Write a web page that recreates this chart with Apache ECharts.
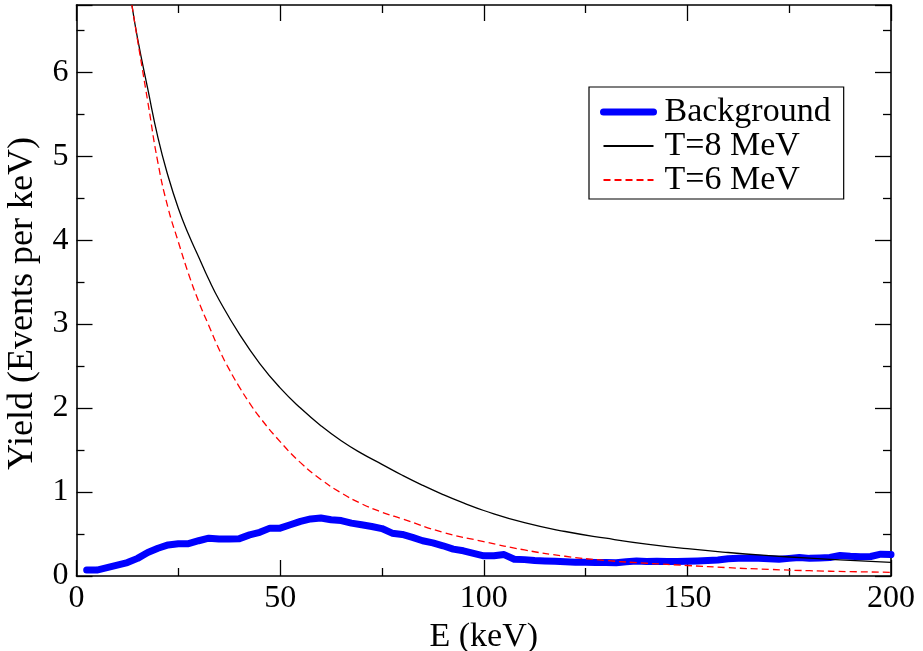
<!DOCTYPE html>
<html>
<head>
<meta charset="utf-8">
<script src="https://cdn.jsdelivr.net/npm/echarts@6/dist/echarts.min.js"></script>
<style>
html,body{margin:0;padding:0;background:#fff;}
#chart{width:923px;height:651px;}
</style>
</head>
<body>
<div id="chart"></div>
<script>
// ---- data ----
const bgE = [2.5,5,7.5,10,12.5,15,17.5,20,22.5,25,27.5,30,32.5,35,37.5,40,42.5,45,47.5,50,52.5,55,57.5,60,62.5,65,67.5,70,72.5,75,77.5,80,82.5,85,87.5,90,92.5,95,97.5,100,102.5,105,107.5,110,112.5,115,117.5,120,122.5,125,127.5,130,132.5,135,137.5,140,142.5,145,147.5,150,152.5,155,157.5,160,162.5,165,167.5,170,172.5,175,177.5,180,182.5,185,187.5,190,192.5,195,197.5,200];
const bgY = [0.07,0.07,0.10,0.13,0.16,0.21,0.28,0.33,0.37,0.385,0.385,0.42,0.45,0.44,0.44,0.445,0.49,0.52,0.57,0.57,0.61,0.65,0.68,0.69,0.67,0.66,0.63,0.61,0.59,0.565,0.51,0.495,0.46,0.42,0.395,0.36,0.32,0.30,0.27,0.24,0.24,0.255,0.20,0.195,0.185,0.18,0.175,0.17,0.165,0.165,0.162,0.16,0.158,0.17,0.178,0.172,0.175,0.172,0.172,0.175,0.18,0.185,0.19,0.205,0.21,0.21,0.21,0.205,0.20,0.21,0.22,0.21,0.215,0.22,0.245,0.235,0.23,0.232,0.26,0.255];

const t8E = [13.6,15,17.5,20,22.5,25,27.5,30,32.5,35,40,45,50,55,60,65,70,75,80,85,90,95,100,110,120,130,140,150,160,170,180,190,200];
const t8Y = [6.8,6.4,5.8,5.22,4.76,4.38,4.07,3.8,3.53,3.29,2.88,2.53,2.24,2.0,1.79,1.61,1.46,1.33,1.20,1.08,0.97,0.87,0.78,0.635,0.53,0.45,0.38,0.325,0.28,0.243,0.212,0.186,0.163];

const t6E = [13.6,15,17.5,20,22.5,25,27.5,30,32.5,35,37.5,40,42.5,45,50,55,60,65,70,75,80,90,100,110,120,130,140,150,160,170,180,190,200];
const t6Y = [6.8,6.38,5.65,4.92,4.38,3.98,3.6,3.27,2.98,2.7,2.46,2.25,2.06,1.89,1.6,1.35,1.15,0.99,0.86,0.76,0.68,0.52,0.41,0.31,0.235,0.185,0.152,0.125,0.099,0.079,0.063,0.052,0.044];

const seriesNames = ['Background','T=8 MeV','T=6 MeV'];
const xTitle = 'E (keV)';
const yTitle = 'Yield (Events per keV)';

const zip = (a,b) => a.map((v,i)=>[v,b[i]]);
const FONT = 'Liberation Serif';

const chart = echarts.init(document.getElementById('chart'));
const axisLine = {show:true, onZero:false, lineStyle:{color:'#000', width:1.6}};
const tick = {show:true, inside:true, length:16, lineStyle:{color:'#000', width:1.3}};
const minor = {show:true, splitNumber:2, length:8, lineStyle:{color:'#000', width:1.3}};
const baseX = {type:'value', min:0, max:200, interval:50, axisLine, splitLine:{show:false}, axisTick:tick, minorTick:minor};
const baseY = {type:'value', min:0, max:6.8, interval:1, axisLine, splitLine:{show:false}, axisTick:tick, minorTick:minor};
chart.setOption({
  animation:false,
  backgroundColor:'#fff',
  grid:{left:76.5, right:32, top:5, bottom:75, containLabel:false, outerBoundsMode:'none'},
  legend:{
    orient:'vertical', left:589, top:87,
    data:[
      {name:seriesNames[0], lineStyle:{width:7}},
      {name:seriesNames[1]},
      {name:seriesNames[2]}
    ],
    borderColor:'#000', borderWidth:1.2,
    padding:[8,13,2,11],
    itemGap:0, itemWidth:50, itemHeight:34,
    itemStyle:{opacity:0},
    textStyle:{fontFamily:FONT, fontSize:34, color:'#000', lineHeight:34, padding:[0,0,0,6]}
  },
  xAxis:[
    Object.assign({}, baseX, {
      position:'bottom',
      name:xTitle, nameLocation:'middle', nameGap:32,
      nameTextStyle:{fontFamily:FONT, fontSize:34, color:'#000'},
      axisLabel:{fontFamily:FONT, fontSize:32, color:'#000', margin:7}
    }),
    Object.assign({}, baseX, {position:'top', axisLabel:{show:false}})
  ],
  yAxis:[
    Object.assign({}, baseY, {
      position:'left',
      name:yTitle, nameLocation:'middle', nameGap:36, nameRotate:90,
      nameTextStyle:{fontFamily:FONT, fontSize:36, color:'#000', padding:[0,26,0,0]},
      axisLabel:{fontFamily:FONT, fontSize:32, color:'#000', margin:8, showMaxLabel:false}
    }),
    Object.assign({}, baseY, {position:'right', axisLabel:{show:false}})
  ],
  series:[
    {name:seriesNames[0], type:'line', data:zip(bgE,bgY), showSymbol:false, symbol:'none',
     lineStyle:{color:'#0000ff', width:7, join:'round', cap:'round'}, itemStyle:{color:'#0000ff'}, z:2},
    {name:seriesNames[1], type:'line', data:zip(t8E,t8Y), showSymbol:false, symbol:'none',
     smooth:true,
     lineStyle:{color:'#000', width:1.3}, itemStyle:{color:'#000'}, z:3},
    {name:seriesNames[2], type:'line', data:zip(t6E,t6Y), showSymbol:false, symbol:'none',
     smooth:true,
     lineStyle:{color:'#ff0000', width:1.3, type:[7,4]}, itemStyle:{color:'#ff0000'}, z:4}
  ]
});
</script>
</body>
</html>
